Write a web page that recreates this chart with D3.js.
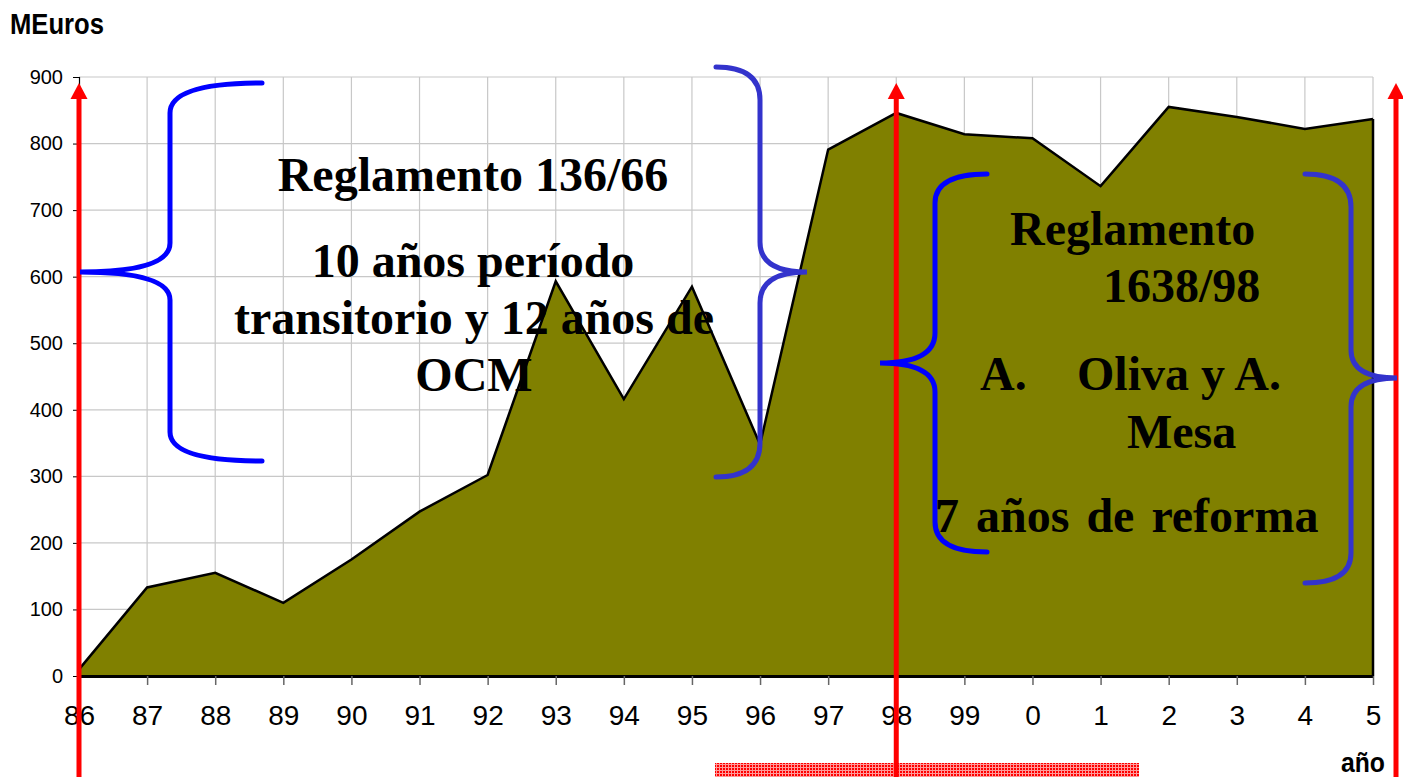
<!DOCTYPE html>
<html>
<head>
<meta charset="utf-8">
<script src="https://cdn.jsdelivr.net/npm/d3@7/dist/d3.min.js"></script>
<style>
  body { margin: 0; background: #fff; }
  svg { display: block; }
  .tick text { fill: #000; }
</style>
</head>
<body>
<svg id="chart" width="1403" height="777"></svg>
<script>
// years (two-digit labels as on the original axis)
const years = ['86', '87', '88', '89', '90', '91', '92', '93', '94', '95',
  '96', '97', '98', '99', '0', '1', '2', '3', '4', '5'];
// MEuros per year
const values = [10, 133, 155, 110, 175, 247, 302, 593, 416, 585,
  348, 791, 846, 814, 808, 736, 855, 840, 822, 837];
const yTicks = [0, 100, 200, 300, 400, 500, 600, 700, 800, 900];

const leftLines = ['Reglamento 136/66', '10 años período', 'transitorio y 12 años de', 'OCM'];
const rightLines = ['Reglamento', '1638/98', 'A.', 'Oliva y A.', 'Mesa', '7 años de reforma'];

const svg = d3.select('#chart');
const margin = { top: 77, left: 79, right: 30, bottom: 101 };
const width = 1403, height = 777;

const x = d3.scalePoint().domain(years).range([margin.left, 1373]);
const y = d3.scaleLinear().domain([0, 900]).range([height - margin.bottom, margin.top]);

const data = years.map((d, i) => ({ year: d, value: values[i] }));

// grid
const grid = svg.append('g').attr('class', 'grid');
grid.selectAll('line.h')
  .data(yTicks.filter(d => d > 0))
  .enter().append('line')
  .attr('x1', x(years[0])).attr('x2', x(years[years.length - 1]))
  .attr('y1', d => y(d)).attr('y2', d => y(d))
  .attr('stroke', '#c8c8c8').attr('stroke-width', 1.2);
grid.selectAll('line.v')
  .data(years.slice(1))
  .enter().append('line')
  .attr('x1', d => x(d)).attr('x2', d => x(d))
  .attr('y1', y(900)).attr('y2', y(0))
  .attr('stroke', '#c8c8c8').attr('stroke-width', 1.2);

// area
const area = d3.area()
  .x(d => x(d.year))
  .y0(y(0))
  .y1(d => y(d.value));
svg.append('path')
  .datum(data)
  .attr('d', area)
  .attr('fill', '#808000');
const line = d3.line().x(d => x(d.year)).y(d => y(d.value));
svg.append('path')
  .datum(data)
  .attr('d', line)
  .attr('fill', 'none')
  .attr('stroke', '#000')
  .attr('stroke-width', 2.5)
  .attr('stroke-linejoin', 'miter');
// right edge of the area
const last = data[data.length - 1];
svg.append('line')
  .attr('x1', x(last.year)).attr('x2', x(last.year))
  .attr('y1', y(last.value)).attr('y2', y(0))
  .attr('stroke', '#000').attr('stroke-width', 2.5);

// axes
const yAxis = svg.append('g')
  .attr('transform', `translate(${margin.left},0)`)
  .call(d3.axisLeft(y).tickValues(yTicks).tickSize(6).tickPadding(10));
yAxis.select('.domain').attr('stroke', '#000').attr('stroke-width', 1.2);
yAxis.selectAll('.tick line').attr('stroke', '#000');
yAxis.selectAll('.tick text')
  .style('font-family', 'Liberation Sans, Arial, sans-serif')
  .style('font-size', '20px');

const xAxis = svg.append('g')
  .attr('transform', `translate(0,${y(0)})`)
  .call(d3.axisBottom(x).tickSize(9).tickSizeOuter(0).tickPadding(20));
xAxis.select('.domain').attr('stroke', '#000').attr('stroke-width', 3);
xAxis.selectAll('.tick line').attr('stroke', '#666').attr('stroke-width', 1.5);
xAxis.selectAll('.tick text')
  .style('font-family', 'Liberation Sans, Arial, sans-serif')
  .style('font-size', '28px');

// axis titles
svg.append('text')
  .attr('x', 10).attr('y', 34)
  .attr('textLength', 94).attr('lengthAdjust', 'spacingAndGlyphs')
  .style('font-family', 'Liberation Sans, Arial, sans-serif')
  .style('font-weight', 'bold').style('font-size', '29px')
  .text('MEuros');
svg.append('text')
  .attr('x', 1341).attr('y', 772)
  .attr('textLength', 44).attr('lengthAdjust', 'spacingAndGlyphs')
  .style('font-family', 'Liberation Sans, Arial, sans-serif')
  .style('font-weight', 'bold').style('font-size', '27px')
  .text('año');

// red hatched bar under the axis
const defs = svg.append('defs');
const pat = defs.append('pattern')
  .attr('id', 'hatch').attr('width', 3).attr('height', 3)
  .attr('patternUnits', 'userSpaceOnUse');
pat.append('rect').attr('width', 3).attr('height', 3).attr('fill', '#ff0000');
pat.append('rect').attr('x', 2).attr('width', 1).attr('height', 3).attr('fill', '#ff9a9a');
pat.append('rect').attr('y', 2).attr('width', 3).attr('height', 1).attr('fill', '#ff9a9a');
svg.append('rect')
  .attr('x', 715).attr('y', 763).attr('width', 424).attr('height', 14)
  .attr('fill', 'url(#hatch)');

// red arrows (period limits)
const arrows = [x('86'), x('98'), x('5') + 23];
arrows.forEach(ax => {
  svg.append('line')
    .attr('x1', ax).attr('x2', ax)
    .attr('y1', height).attr('y2', 96)
    .attr('stroke', '#ff0000').attr('stroke-width', 5);
  svg.append('path')
    .attr('d', `M${ax},83 L${ax + 8.5},99 L${ax - 8.5},99 Z`)
    .attr('fill', '#ff0000');
});

// braces
function brace(b) {
  return `M${b.xe},${b.yt} Q${b.xs},${b.yt} ${b.xs},${b.ya}` +
    ` L${b.xs},${b.yb} Q${b.xs},${b.tipY} ${b.tipX},${b.tipY}` +
    ` Q${b.xs},${b.tipY} ${b.xs},${b.yc}` +
    ` L${b.xs},${b.yd} Q${b.xs},${b.yBot} ${b.xe},${b.yBot}`;
}
const braces = [
  { xe: 262, yt: 83, xs: 170, ya: 113, yb: 243, tipX: 80, tipY: 272, yc: 300, yd: 432, yBot: 461, color: '#0000ff' },
  { xe: 716, yt: 67, xs: 760, ya: 100, yb: 242, tipX: 807, tipY: 272, yc: 303, yd: 443, yBot: 477, color: '#3333cc' },
  { xe: 987, yt: 174, xs: 935, ya: 203, yb: 333, tipX: 880, tipY: 363, yc: 392, yd: 522, yBot: 552, color: '#0000ff' },
  { xe: 1305, yt: 174, xs: 1351, ya: 207, yb: 350, tipX: 1397, tipY: 378, yc: 407, yd: 553, yBot: 583, color: '#3333cc' }
];
svg.selectAll('path.brace')
  .data(braces)
  .enter().append('path')
  .attr('class', 'brace')
  .attr('d', brace)
  .attr('fill', 'none')
  .attr('stroke', d => d.color)
  .attr('stroke-width', 5)
  .attr('stroke-linecap', 'round');

// annotation text
const serif = 'Liberation Serif, Times New Roman, serif';
const leftPos = [[473, 191], [473, 277], [474, 334], [474, 391]];
svg.selectAll('text.left')
  .data(leftLines)
  .enter().append('text')
  .attr('class', 'left')
  .attr('x', (d, i) => leftPos[i][0]).attr('y', (d, i) => leftPos[i][1])
  .attr('text-anchor', 'middle')
  .style('font-family', serif).style('font-weight', 'bold').style('font-size', '48px')
  .text(d => d);

const rightPos = [[1010, 245], [1103, 302], [980, 390], [1077, 390], [1127, 448], [935, 532]];
svg.selectAll('text.right')
  .data(rightLines)
  .enter().append('text')
  .attr('class', 'right')
  .attr('x', (d, i) => rightPos[i][0]).attr('y', (d, i) => rightPos[i][1])
  .style('font-family', serif).style('font-weight', 'bold').style('font-size', '48px')
  .style('word-spacing', (d, i) => i === 5 ? '5px' : null)
  .text(d => d);
</script>
</body>
</html>
